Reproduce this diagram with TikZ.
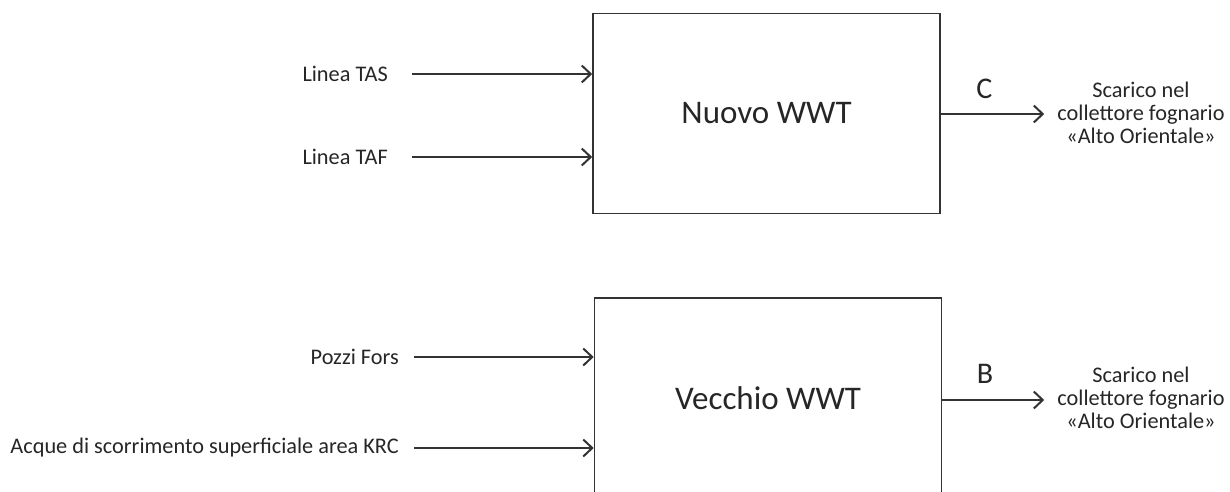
\documentclass[tikz,border=0pt]{standalone}
\usepackage{fontspec}
\setmainfont{Carlito}
\usetikzlibrary{arrows.meta}
\tikzset{
  flow/.style={draw=black!80, line width=2pt, -{Straight Barb[length=9pt,width=17pt,line width=2pt]}},
  plant/.style={draw=black!80, line width=1.6pt, minimum width=347pt, minimum height=200pt, font=\fontsize{33}{38}\selectfont, text=black!85},
  inlab/.style={anchor=east, inner sep=0pt, font=\fontsize{22.3}{26}\selectfont, text=black!85},
  outlab/.style={align=center, inner sep=0pt, font=\fontsize{22.3}{23}\selectfont, text=black!85},
  tag/.style={inner sep=0pt, font=\fontsize{30}{34}\selectfont, text=black!85}
}
\begin{document}
	\begin{tikzpicture}[x=1pt, y=-1pt]
		\useasboundingbox (0,0) rectangle (1230,492);
		\clip (0,0) rectangle (1230,492);
		% impianti
		\node[plant] (nuovo) at (766.5,113.5) {Nuovo WWT};
		\node[plant] (vecchio) at (768,398) {Vecchio WWT};
		% ingressi
		\node[inlab] (tas) at (388,74) {Linea TAS};
		\node[inlab] (taf) at (388,157) {Linea TAF};
		\node[inlab] (fors) at (399,357) {Pozzi Fors};
		\node[inlab] (krc) at (399,448) {Acque di scorrimento superficiale area KRC};
		\draw[flow] ([xshift=24pt]tas.east) -- (tas.east -| nuovo.west);
		\draw[flow] ([xshift=24pt]taf.east) -- (taf.east -| nuovo.west);
		\draw[flow] ([xshift=15pt]fors.east) -- (fors.east -| vecchio.west);
		\draw[flow] ([xshift=15pt]krc.east) -- (krc.east -| vecchio.west);
		% scarichi
		\node[outlab] (scaricoC) at (1141,113) {Scarico nel\\collettore fognario\\«Alto Orientale»};
		\node[outlab] (scaricoB) at (1141,398) {Scarico nel\\collettore fognario\\«Alto Orientale»};
		\draw[flow] (nuovo.east |- 0,114) -- ([xshift=-13pt]scaricoC.west |- 0,114) node[tag, pos=0.42, above=14pt] {C};
		\draw[flow] (vecchio.east |- 0,400) -- ([xshift=-13pt]scaricoB.west |- 0,400) node[tag, pos=0.42, above=16pt] {B};
	\end{tikzpicture}
\end{document}
